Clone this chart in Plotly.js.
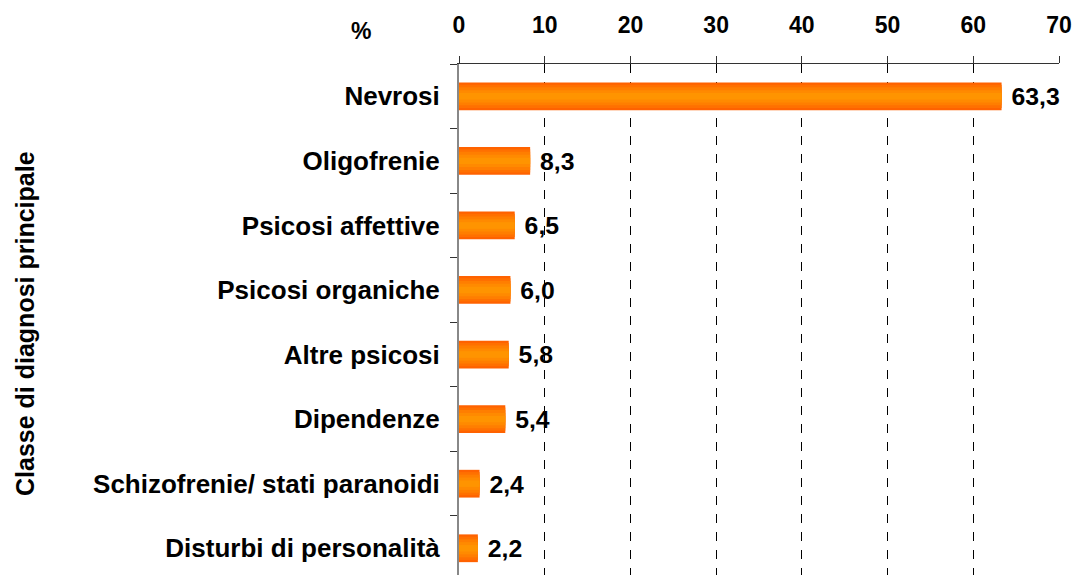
<!DOCTYPE html>
<html>
<head>
<meta charset="utf-8">
<script src="https://cdn.plot.ly/plotly-3.0.1.min.js"></script>
<style>html,body{margin:0;padding:0;background:#fff;}#chart{width:1076px;height:575px;}</style>
</head>
<body>
<div id="chart"></div>
<script>
const categories = ["Nevrosi","Oligofrenie","Psicosi affettive","Psicosi organiche","Altre psicosi","Dipendenze","Schizofrenie/ stati paranoidi","Disturbi di personalità"];
const values = [63.3, 8.3, 6.5, 6.0, 5.8, 5.4, 2.4, 2.2];
const xTicks = [0,10,20,30,40,50,60,70];

const FONT = "Liberation Sans, Arial, sans-serif";
const layers = [
  {w:0.43, c:"#FF6200"},
  {w:0.36, c:"#FF7000"},
  {w:0.28, c:"#FF7E00"},
  {w:0.19, c:"#FF8A00"},
  {w:0.10, c:"#FF9400"}
];
const traces = layers.map((L,i)=>({
  type:"bar", orientation:"h", x:values, y:categories, width:L.w,
  marker:{color:L.c, line:{width:0}},
  text: i===0 ? values : undefined,
  texttemplate: i===0 ? " %{x:.1f}" : undefined,
  textposition: i===0 ? "outside" : "none",
  cliponaxis:false,
  textfont:{family:FONT, size:25, color:"#000", weight:"bold"},
  hoverinfo:"skip", showlegend:false
}));

const layout = {
  width:1076, height:575,
  margin:{l:459, r:17, t:64, b:0, pad:0},
  paper_bgcolor:"#fff", plot_bgcolor:"#fff",
  separators:",.",
  barmode:"overlay",
  font:{family:FONT, color:"#000"},
  xaxis:{
    side:"top", range:[0,70], tickvals:xTicks, ticktext:xTicks.map(String),
    showline:true, linecolor:"#333", linewidth:1,
    ticks:"outside", ticklen:7, tickcolor:"#333",
    showgrid:true, gridcolor:"#000", griddash:"dash", gridwidth:1,
    zeroline:false, ticklabelstandoff:14,
    tickfont:{family:FONT, size:23, weight:"bold", color:"#000"}
  },
  yaxis:{
    type:"category", range:[7.414,-0.5],
    showline:true, linecolor:"#888", linewidth:2,
    ticks:"outside", ticklen:7, tickcolor:"#333", tickson:"boundaries",
    showgrid:false, zeroline:false, ticklabelstandoff:12,
    tickfont:{family:FONT, size:26, weight:"bold", color:"#000"}
  },
  annotations:[
    {text:"%", xref:"paper", yref:"paper", x:(361-459)/600, y:(575-31)/511, showarrow:false,
     xanchor:"center", yanchor:"middle", font:{family:FONT, size:23, weight:"bold", color:"#000"}},
    {text:"Classe di diagnosi principale", textangle:-90, xref:"paper", yref:"paper",
     x:(25-459)/600, y:(575-323)/511, showarrow:false, xanchor:"center", yanchor:"middle",
     font:{family:FONT, size:25, weight:"bold", color:"#000"}}
  ]
};
Plotly.newPlot("chart", traces, layout, {staticPlot:true, displayModeBar:false});
</script>
</body>
</html>
